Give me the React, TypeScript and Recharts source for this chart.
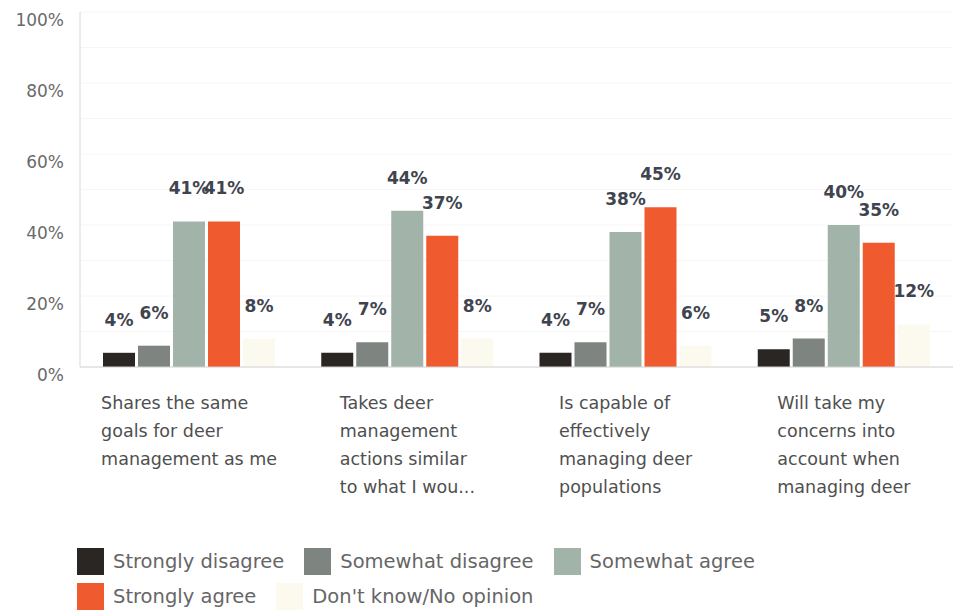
import React from 'react';
import { BarChart, Bar, XAxis, YAxis, CartesianGrid, LabelList } from 'recharts';

const categoryLines: string[][] = [
  ['Shares the same', 'goals for deer', 'management as me'],
  ['Takes deer', 'management', 'actions similar', 'to what I wou...'],
  ['Is capable of', 'effectively', 'managing deer', 'populations'],
  ['Will take my', 'concerns into', 'account when', 'managing deer'],
];

const stronglyDisagree = [4, 4, 4, 5];
const somewhatDisagree = [6, 7, 7, 8];
const somewhatAgree = [41, 44, 38, 40];
const stronglyAgree = [41, 37, 45, 35];
const dontKnow = [8, 8, 6, 12];

const yTicks = [0, 10, 20, 30, 40, 50, 60, 70, 80, 90, 100];

const series = [
  { key: 'sd', name: 'Strongly disagree', values: stronglyDisagree, color: '#2a2623' },
  { key: 'swd', name: 'Somewhat disagree', values: somewhatDisagree, color: '#7e8480' },
  { key: 'swa', name: 'Somewhat agree', values: somewhatAgree, color: '#a2b3a9' },
  { key: 'sa', name: 'Strongly agree', values: stronglyAgree, color: '#ef5a2e' },
  { key: 'dk', name: "Don't know/No opinion", values: dontKnow, color: '#fcf9ee' },
];

const data = categoryLines.map((lines, i) => {
  const row: Record<string, any> = { name: lines.join(' ') };
  series.forEach(s => { row[s.key] = s.values[i]; });
  return row;
});

const FONT = '"DejaVu Sans", sans-serif';

function XTick({ x, y, payload }: any) {
  const lines = categoryLines[payload.index] || [];
  return (
    <foreignObject x={x - 109} y={y + 22} width={218} height={130}>
      <div style={{ display: 'flex', justifyContent: 'center' }}>
        <div style={{ textAlign: 'left', lineHeight: '28px', fontSize: 17.5, fontFamily: FONT, color: '#4f4f4f', whiteSpace: 'nowrap' }}>
          {lines.map((l, i) => <div key={i}>{l}</div>)}
        </div>
      </div>
    </foreignObject>
  );
}

function YTick({ x, y, payload }: any) {
  if (payload.value % 20 !== 0) return null;
  return (
    <text x={x} y={y + 9} textAnchor="end" dominantBaseline="middle" fontSize={17} fontFamily={FONT} fill="#6a6a6a">
      {payload.value}%
    </text>
  );
}

export default function App() {
  return (
    <div style={{ position: 'relative', width: 953, height: 614, background: '#fff' }}>
      <style>{'body{margin:0}'}</style>
      <BarChart width={953} height={520} data={data} margin={{ top: 12, right: 0, bottom: 0, left: 0 }} barSize={32} barGap={3}>
        <CartesianGrid vertical={false} stroke="#f6f6f6" />
        <YAxis
          width={80}
          domain={[0, 100]}
          ticks={yTicks}
          interval={0}
          tickLine={false}
          tickSize={0}
          tickMargin={16}
          axisLine={{ stroke: '#d8d8d8' }}
          tick={<YTick />}
        />
        <XAxis
          dataKey="name"
          height={153}
          interval={0}
          tickLine={false}
          tickSize={0}
          tickMargin={0}
          axisLine={{ stroke: '#d2d2d2' }}
          tick={<XTick />}
        />
        {series.map(s => (
          <Bar key={s.key} dataKey={s.key} name={s.name} fill={s.color} isAnimationActive={false}>
            <LabelList
              dataKey={s.key}
              position="top"
              offset={27}
              formatter={(v: any) => `${v}%`}
              fill="#40444e"
              fontSize={17}
              fontWeight="bold"
              fontFamily={FONT}
            />
          </Bar>
        ))}
      </BarChart>
      <div style={{ position: 'absolute', left: 77, top: 548, width: 700, display: 'flex', flexWrap: 'wrap', rowGap: 8 }}>
        {series.map(s => (
          <div key={s.key} style={{ display: 'flex', alignItems: 'center', marginRight: 20 }}>
            <div style={{ width: 27, height: 27, background: s.color, marginRight: 9 }} />
            <span style={{ fontFamily: FONT, fontSize: 19.5, color: '#666' }}>{s.name}</span>
          </div>
        ))}
      </div>
    </div>
  );
}
